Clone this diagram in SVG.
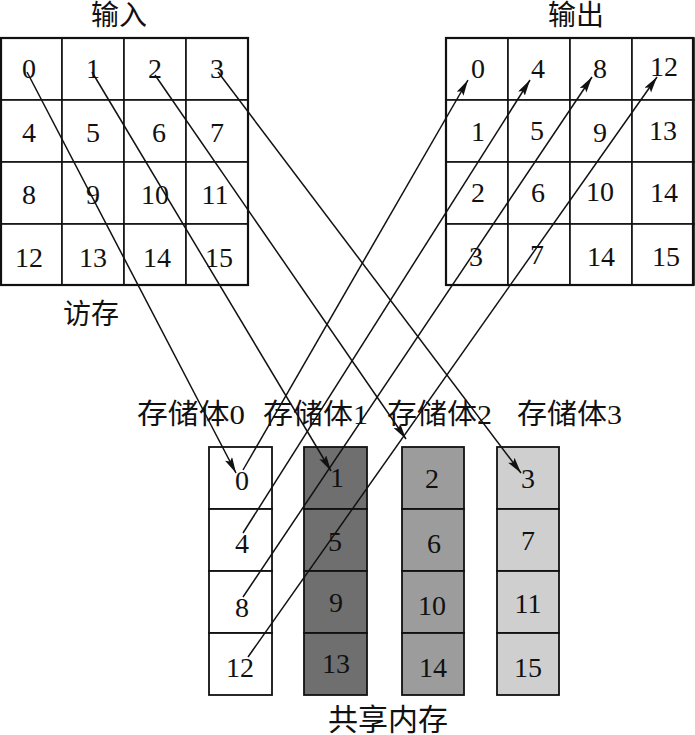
<svg xmlns="http://www.w3.org/2000/svg" width="695" height="735" viewBox="0 0 695 735">
<style>
.cell{fill:#fff;stroke:#111;stroke-width:1.6}
.outer{fill:none;stroke:#111;stroke-width:2.2}
.num{font-family:"Liberation Serif","Times New Roman",serif;font-size:28px;fill:#111;text-anchor:middle}
.lbl{font-family:"Liberation Serif","Noto Sans CJK SC",serif;font-size:28px;fill:#111}
.conn{stroke:#111;stroke-width:1.5;fill:none;marker-end:url(#ah)}
.b0{fill:#ffffff}.b1{fill:#6f6f6f}.b2{fill:#9c9c9c}.b3{fill:#cfcfcf}
.bk{stroke:#111;stroke-width:1.8}
</style>
<defs>
<marker id="ah" markerUnits="userSpaceOnUse" markerWidth="18" markerHeight="9" refX="16" refY="4" orient="auto">
<path d="M0,0 L16,4 L0,8 L3,4 z" fill="#111"/>
</marker>
</defs>
<rect width="695" height="735" fill="#fff"/>

<g id="labels">
<text class="lbl" x="119" y="25" text-anchor="middle">输入</text>
<text class="lbl" x="576" y="25" text-anchor="middle">输出</text>
<text class="lbl" x="91" y="324" text-anchor="middle">访存</text>
<text class="lbl" x="137" y="424" textLength="108" lengthAdjust="spacingAndGlyphs">存储体0</text>
<text class="lbl" x="263" y="424" textLength="105" lengthAdjust="spacingAndGlyphs">存储体1</text>
<text class="lbl" x="387" y="424" textLength="105" lengthAdjust="spacingAndGlyphs">存储体2</text>
<text class="lbl" x="517" y="424" textLength="105" lengthAdjust="spacingAndGlyphs">存储体3</text>
<text class="lbl" x="388" y="730" text-anchor="middle" style="font-size:30px">共享内存</text>
</g>

<g id="input">
<rect class="cell" x="0" y="38" width="62" height="62"/><rect class="cell" x="62" y="38" width="62" height="62"/><rect class="cell" x="124" y="38" width="62" height="62"/><rect class="cell" x="186" y="38" width="62" height="62"/>
<rect class="cell" x="0" y="100" width="62" height="62"/><rect class="cell" x="62" y="100" width="62" height="62"/><rect class="cell" x="124" y="100" width="62" height="62"/><rect class="cell" x="186" y="100" width="62" height="62"/>
<rect class="cell" x="0" y="162" width="62" height="62"/><rect class="cell" x="62" y="162" width="62" height="62"/><rect class="cell" x="124" y="162" width="62" height="62"/><rect class="cell" x="186" y="162" width="62" height="62"/>
<rect class="cell" x="0" y="224" width="62" height="61"/><rect class="cell" x="62" y="224" width="62" height="61"/><rect class="cell" x="124" y="224" width="62" height="61"/><rect class="cell" x="186" y="224" width="62" height="61"/>
<rect class="outer" x="1" y="38" width="247" height="247"/>
<text class="num" x="29" y="78">0</text><text class="num" x="93" y="78">1</text><text class="num" x="155" y="78">2</text><text class="num" x="217" y="78">3</text>
<text class="num" x="29" y="142">4</text><text class="num" x="93" y="142">5</text><text class="num" x="159" y="142">6</text><text class="num" x="217" y="142">7</text>
<text class="num" x="29" y="204">8</text><text class="num" x="93" y="204">9</text><text class="num" x="155" y="204">10</text><text class="num" x="215" y="204">11</text>
<text class="num" x="29" y="267">12</text><text class="num" x="93" y="267">13</text><text class="num" x="157" y="267">14</text><text class="num" x="219" y="267">15</text>
</g>

<g id="output">
<rect class="cell" x="446" y="38" width="62" height="62"/><rect class="cell" x="508" y="38" width="62" height="62"/><rect class="cell" x="570" y="38" width="62" height="62"/><rect class="cell" x="632" y="38" width="62" height="62"/>
<rect class="cell" x="446" y="100" width="62" height="62"/><rect class="cell" x="508" y="100" width="62" height="62"/><rect class="cell" x="570" y="100" width="62" height="62"/><rect class="cell" x="632" y="100" width="62" height="62"/>
<rect class="cell" x="446" y="162" width="62" height="62"/><rect class="cell" x="508" y="162" width="62" height="62"/><rect class="cell" x="570" y="162" width="62" height="62"/><rect class="cell" x="632" y="162" width="62" height="62"/>
<rect class="cell" x="446" y="224" width="62" height="61"/><rect class="cell" x="508" y="224" width="62" height="61"/><rect class="cell" x="570" y="224" width="62" height="61"/><rect class="cell" x="632" y="224" width="62" height="61"/>
<rect class="outer" x="446" y="38" width="247" height="247"/>
<text class="num" x="478" y="78">0</text><text class="num" x="538" y="78">4</text><text class="num" x="600" y="78">8</text><text class="num" x="664" y="76">12</text>
<text class="num" x="478" y="141">1</text><text class="num" x="537" y="140">5</text><text class="num" x="600" y="142">9</text><text class="num" x="663" y="140">13</text>
<text class="num" x="478" y="202">2</text><text class="num" x="538" y="202">6</text><text class="num" x="600" y="201">10</text><text class="num" x="664" y="202">14</text>
<text class="num" x="476" y="266">3</text><text class="num" x="537" y="264">7</text><text class="num" x="601" y="266">14</text><text class="num" x="666" y="266">15</text>
</g>

<g id="bank0">
<rect class="b0 bk" x="209" y="447" width="63" height="62"/><rect class="b0 bk" x="209" y="509" width="63" height="62"/><rect class="b0 bk" x="209" y="571" width="63" height="62"/><rect class="b0 bk" x="209" y="633" width="63" height="62"/>
<text class="num" x="242" y="490">0</text><text class="num" x="242" y="553">4</text><text class="num" x="242" y="617">8</text><text class="num" x="240" y="677">12</text>
</g>
<g id="bank1">
<rect class="b1 bk" x="304" y="447" width="63" height="62"/><rect class="b1 bk" x="304" y="509" width="63" height="62"/><rect class="b1 bk" x="304" y="571" width="63" height="62"/><rect class="b1 bk" x="304" y="633" width="63" height="62"/>
<text class="num" x="337" y="487">1</text><text class="num" x="335" y="551">5</text><text class="num" x="336" y="612">9</text><text class="num" x="336" y="673">13</text>
</g>
<g id="bank2">
<rect class="b2 bk" x="402" y="447" width="62" height="62"/><rect class="b2 bk" x="402" y="509" width="62" height="62"/><rect class="b2 bk" x="402" y="571" width="62" height="62"/><rect class="b2 bk" x="402" y="633" width="62" height="62"/>
<text class="num" x="432" y="488">2</text><text class="num" x="434" y="553">6</text><text class="num" x="432" y="615">10</text><text class="num" x="433" y="677">14</text>
</g>
<g id="bank3">
<rect class="b3 bk" x="497" y="447" width="62" height="62"/><rect class="b3 bk" x="497" y="509" width="62" height="62"/><rect class="b3 bk" x="497" y="571" width="62" height="62"/><rect class="b3 bk" x="497" y="633" width="62" height="62"/>
<text class="num" x="528" y="488">3</text><text class="num" x="528" y="550">7</text><text class="num" x="528" y="613">11</text><text class="num" x="528" y="677">15</text>
</g>

<g id="connectors">
<line class="conn" x1="27" y1="72" x2="236" y2="473"/>
<line class="conn" x1="92" y1="72" x2="331" y2="471"/>
<line class="conn" x1="155" y1="75" x2="406" y2="439"/>
<line class="conn" x1="218" y1="72" x2="521" y2="473"/>
<line class="conn" x1="243" y1="470" x2="468" y2="80"/>
<line class="conn" x1="243" y1="533" x2="530" y2="80"/>
<line class="conn" x1="243" y1="597" x2="592" y2="77"/>
<line class="conn" x1="248" y1="657" x2="657" y2="77"/>
</g>
</svg>
